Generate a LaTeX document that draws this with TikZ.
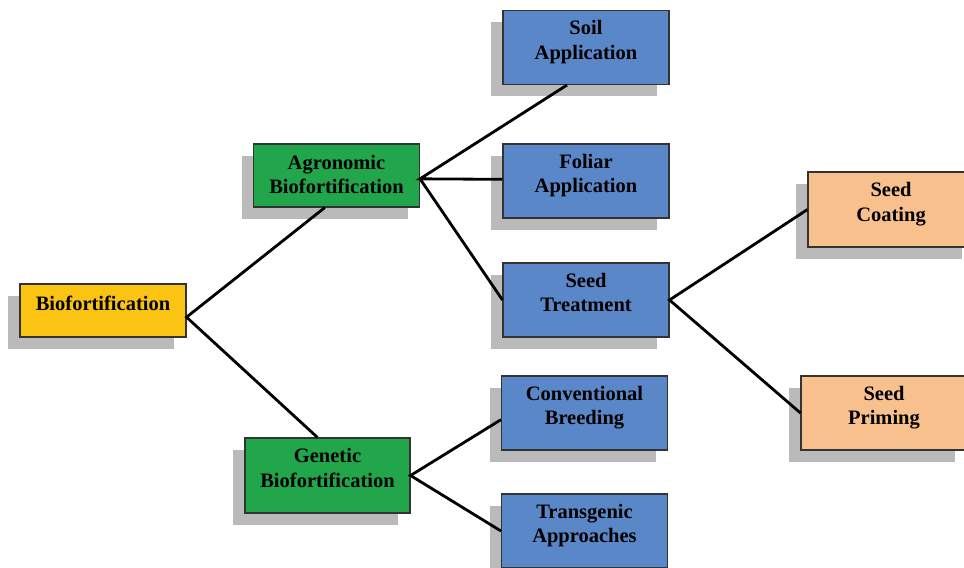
\documentclass[tikz,border=0pt]{standalone}
\usepackage{fontspec}
\setmainfont{Liberation Serif}
\usetikzlibrary{shadows}
\definecolor{bioyellow}{HTML}{FBC312}
\definecolor{biogreen}{HTML}{22A64B}
\definecolor{bioblue}{HTML}{5A87C7}
\definecolor{biopeach}{HTML}{F8C08D}
\tikzset{
  box/.style={draw=black!80, line width=0.9pt, align=center, inner sep=0pt,
    font=\fontsize{17.5}{20.5}\selectfont\bfseries, text depth=13pt,
    minimum width=166*0.03cm, minimum height=74*0.03cm,
    drop shadow={shadow xshift=-0.36cm, shadow yshift=-0.36cm, fill=black!27, opacity=1}},
  link/.style={line width=2.4pt}
}
\begin{document}
\begin{tikzpicture}[x=0.03cm,y=-0.03cm]
\useasboundingbox (0,0) rectangle (964,567);
\node[box,fill=bioyellow,minimum height=53*0.03cm] (bio) at (103,310.5) {Biofortification};
\node[box,fill=biogreen,minimum height=63*0.03cm,text depth=2pt] (agro) at (336.5,175.5) {Agronomic\\Biofortification};
\node[box,fill=biogreen,minimum width=165*0.03cm,minimum height=75*0.03cm] (gen) at (327.5,475.5) {Genetic\\Biofortification};
\node[box,fill=bioblue] (soil) at (586,47.5) {Soil\\Application};
\node[box,fill=bioblue] (foliar) at (586,181) {Foliar\\Application};
\node[box,fill=bioblue] (treat) at (586,300) {Seed\\Treatment};
\node[box,fill=bioblue] (conv) at (584.5,413) {Conventional\\Breeding};
\node[box,fill=bioblue] (trans) at (584.5,531) {Transgenic\\Approaches};
\node[box,fill=biopeach,minimum height=75*0.03cm] (coat) at (891,209.5) {Seed\\Coating};
\node[box,fill=biopeach] (prim) at (884,413) {Seed\\Priming};
\draw[link] ([xshift=-3.5mm]agro.south) -- ([yshift=-2mm]bio.east) -- ([xshift=-3mm]gen.north);
\draw[link] ([xshift=-5.7mm]soil.south) -- ([yshift=-1mm]agro.east) -- ([yshift=0.5mm]foliar.west);
\draw[link] ([yshift=-1mm]agro.east) -- (treat.west);
\draw[link] (coat.west) -- (treat.east) -- (prim.west);
\draw[link] ([yshift=-2mm]conv.west) -- (gen.east) -- (trans.west);
\end{tikzpicture}
\end{document}
